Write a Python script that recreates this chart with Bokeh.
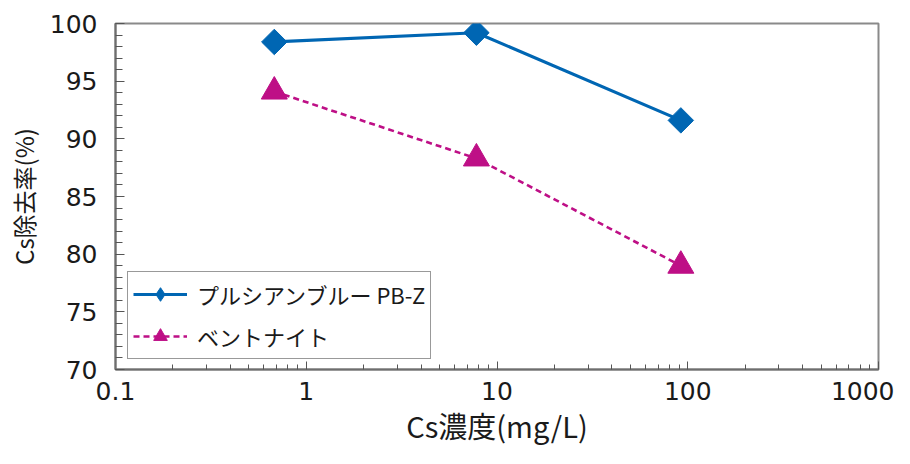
from bokeh.plotting import figure
from bokeh.models import Range1d, FixedTicker, Legend, LegendItem
from bokeh.embed import file_html
from bokeh.resources import INLINE
import numpy as np

# ---- data ----
cs_conc = [0.68, 7.8, 92]            # Cs濃度 (mg/L)
pb_removal = [98.4, 99.2, 91.6]      # プルシアンブルー PB-Z
bent_removal = [94.1, 88.3, 79.0]    # ベントナイト
series_names = ["プルシアンブルー PB-Z", "ベントナイト"]
x_ticks = [0.1, 1, 10, 100, 1000]
x_tick_labels = ["0.1", "1", "10", "100", "1000"]
y_ticks = [70, 75, 80, 85, 90, 95, 100]

BLUE = "#0066B3"
PINK = "#BE0F86"
JP = "Noto Sans CJK JP"
NUM = "DejaVu Sans"

p = figure(width=894, height=448, x_axis_type="log",
           x_range=Range1d(0.1, 1000), y_range=Range1d(70, 100),
           output_backend="svg", toolbar_location=None,
           min_border_left=115, min_border_right=16,
           min_border_top=23, min_border_bottom=77)

p.xgrid.visible = False
p.ygrid.visible = False
p.outline_line_color = "#8a8a8a"
p.outline_line_width = 2
p.background_fill_color = "white"
p.border_fill_color = "white"

# lines + markers
l1 = p.line(cs_conc, pb_removal, line_color=BLUE, line_width=3.2)
m1 = p.scatter(cs_conc, pb_removal, marker="square", angle=np.pi / 4, size=18,
               fill_color=BLUE, line_color=BLUE)
# legend-only diamond (rotated squares are drawn unrotated in legends)
m1_leg = p.scatter(cs_conc, pb_removal, marker="diamond", size=18,
                   fill_color=BLUE, line_color=BLUE, visible=False)
l2 = p.line(cs_conc, bent_removal, line_color=PINK, line_width=2.6, line_dash="6 4")
m2 = p.scatter(cs_conc, bent_removal, marker="triangle", size=26,
               fill_color=PINK, line_color=PINK)

# x axis
xa = p.xaxis[0]
xa.ticker = FixedTicker(ticks=x_ticks,
                        minor_ticks=[k * 10.0 ** e for e in range(-1, 3) for k in range(2, 10)])
xa.major_label_overrides = {t: s for t, s in zip(x_ticks, x_tick_labels)}
xa.axis_label = "Cs濃度(mg/L)"
xa.axis_label_text_font = JP
xa.axis_label_text_font_style = "normal"
xa.axis_label_text_font_size = "29px"
xa.axis_label_text_color = "#1a1a1a"
xa.axis_label_standoff = 1
xa.major_label_text_font = NUM
xa.major_label_text_font_size = "25px"
xa.major_label_text_color = "#1a1a1a"
xa.major_label_standoff = 12
xa.axis_line_color = "#6e6e6e"
xa.axis_line_width = 2
xa.major_tick_in = 8
xa.major_tick_out = 0
xa.minor_tick_in = 5
xa.minor_tick_out = 0
xa.major_tick_line_color = "#555555"
xa.minor_tick_line_color = "#555555"

# y axis
ya = p.yaxis[0]
ya.ticker = FixedTicker(ticks=y_ticks, minor_ticks=list(range(70, 101)))
ya.axis_label = "Cs除去率(%)"
ya.axis_label_text_font = JP
ya.axis_label_text_font_style = "normal"
ya.axis_label_text_font_size = "24px"
ya.axis_label_text_color = "#1a1a1a"
ya.axis_label_standoff = 6
ya.major_label_text_font = NUM
ya.major_label_text_font_size = "25px"
ya.major_label_text_color = "#1a1a1a"
ya.major_label_standoff = 18
ya.axis_line_color = "#6e6e6e"
ya.axis_line_width = 2
ya.major_tick_in = 9
ya.major_tick_out = 0
ya.minor_tick_in = 7
ya.minor_tick_out = 0
ya.major_tick_line_color = "#555555"
ya.minor_tick_line_color = "#555555"

legend = Legend(items=[LegendItem(label=series_names[0], renderers=[l1, m1_leg]),
                       LegendItem(label=series_names[1], renderers=[l2, m2])],
                location=(12, 10))
legend.label_text_font = JP
legend.label_text_font_size = "22px"
legend.label_text_color = "#1a1a1a"
legend.glyph_width = 54
legend.glyph_height = 34
legend.label_height = 28
legend.label_standoff = 10
legend.spacing = 8
legend.padding = 5
legend.margin = 0
legend.border_line_color = "#333333"
legend.border_line_width = 1.5
legend.background_fill_alpha = 1.0
p.add_layout(legend)

open("out.html", "w").write(file_html(p, INLINE))
